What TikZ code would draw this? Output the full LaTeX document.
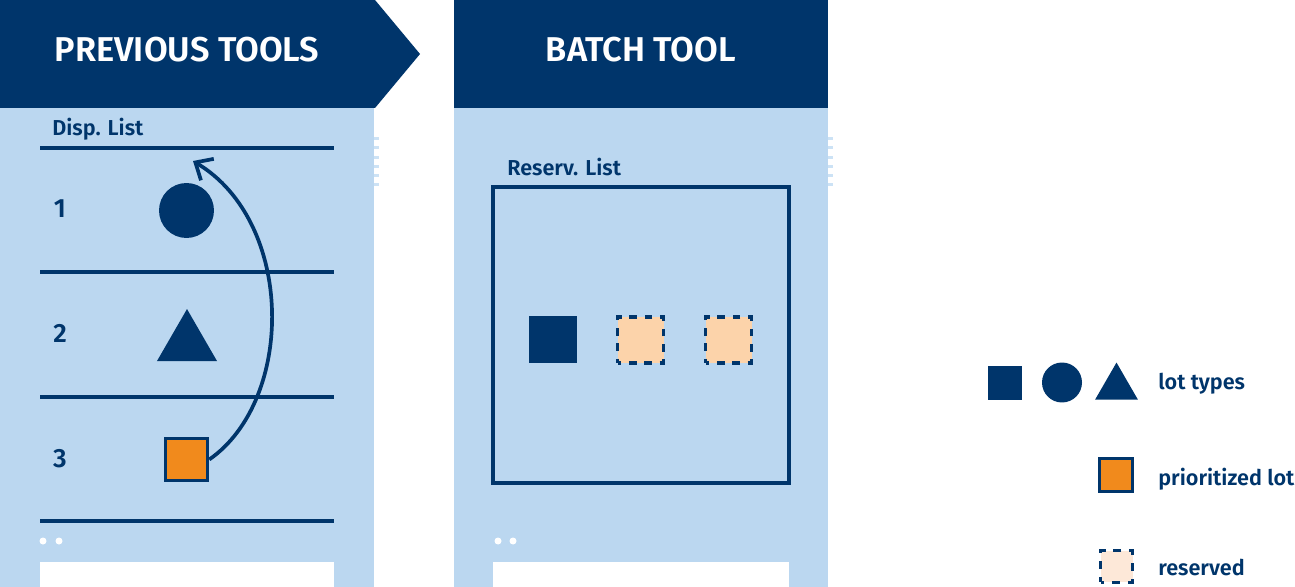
\documentclass[tikz,border=0pt]{standalone}
\usepackage{fontspec}
\setmainfont{Fira Sans}
\newfontfamily\semib{Fira Sans SemiBold}
\usepackage{tikz}
\usetikzlibrary{arrows.meta,positioning,calc,shapes.geometric}
\definecolor{tdark}{HTML}{00356B}
\definecolor{tlight}{HTML}{BBD7F0}
\definecolor{ttick}{HTML}{CCE2F5}
\definecolor{lotorange}{HTML}{F18A1C}
\definecolor{lotpeach}{HTML}{FCD3AA}
\definecolor{lotpale}{HTML}{FDE8D8}
\tikzset{
  hdr/.style={font=\fontsize{19.6}{21}\selectfont\semib,text=white,anchor=base,inner sep=0pt},
  lbl/.style={font=\fontsize{12.3}{15}\selectfont\semib,text=tdark,anchor=base west,inner sep=0pt},
  num/.style={font=\fontsize{15}{18}\selectfont\semib,text=tdark,anchor=base,inner sep=0pt},
  sepline/.style={draw=tdark,line width=2.1pt},
  sqlot/.style={rectangle,fill=tdark,inner sep=0pt},
  cirlot/.style={circle,fill=tdark,inner sep=0pt},
  trilot/.style={regular polygon,regular polygon sides=3,fill=tdark,inner sep=0pt},
  priolot/.style={rectangle,draw=tdark,line width=2pt,fill=lotorange,inner sep=0pt},
  reslot/.style={rectangle,draw=tdark,line width=2pt,fill=lotpeach,inner sep=0pt,
    minimum size=0.92cm,dash pattern=on 4.35pt off 4.35pt,dash phase=2.17pt},
  de/.style={-{Straight Barb[length=2.8mm,width=5mm]},draw=tdark,line width=2.1pt}
}

\begin{document}
\begin{tikzpicture}[x=0.02cm,y=-0.02cm]
\useasboundingbox (0,0) rectangle (1295,587);
% panels
\fill[tlight] (0,108) rectangle (374,587);
\fill[tlight] (454,108) rectangle (828,587);
\fill[white] (40,562) rectangle (334,587);
\fill[white] (493,562) rectangle (789,587);
\foreach \y in {137,146.5,156,165,174,183.3} {
  \fill[ttick] (374,\y) rectangle (378.5,\y+3);
  \fill[ttick] (828,\y) rectangle (832.5,\y+3);
}
\foreach \x in {43,59,498,513}
  \fill[white] (\x,541) circle[radius=0.07cm];
\fill[tdark] (0,0) -- (375,0) -- (420,54) -- (375,108) -- (0,108) -- cycle;
\fill[tdark] (454,0) rectangle (828,108);
\node[hdr] (prevhead) at (187,62) {PREVIOUS TOOLS};
\node[hdr] (batchhead) at (641,62) {BATCH TOOL};
% dispatch list
\node[lbl] (displbl) at (52,136) {Disp. List};
\foreach \y in {148,272,397,521}
  \draw[sepline] (40,\y) -- (334,\y);
\node[num] (n1) at (60,218) {1};
\node[num] (n2) at (60,343) {2};
\node[num] (n3) at (60,467) {3};
\node[cirlot,minimum size=1.1cm] (lot1) at (186.5,210.5) {};
\node[trilot,minimum size=1.386cm] (lot2) at (187,343.7) {};
\node[priolot,minimum size=0.84cm] (lot3) at (186.5,459.5) {};
\coordinate (disptop) at (193,161);
\draw[de] (lot3.east) .. controls (295,400) and (295,222) .. (disptop);
% reservation list
\node[lbl] (reslbl) at (507,176) {Reserv. List};
\draw[sepline] (493,187) rectangle (789,483);
\node[sqlot,minimum size=0.96cm] (bl1) at (553,339.5) {};
\node[reslot] (bl2) at (640.5,340) {};
\node[reslot] (bl3) at (728.5,340) {};
% legend
\node[sqlot,minimum size=0.68cm] (lgsq) at (1005,383) {};
\node[cirlot,minimum size=0.8cm] (lgcir) at (1062,382.5) {};
\node[trilot,minimum size=0.99cm] (lgtri) at (1116.5,387.3) {};
\node[lbl] (lgtypes) at (1158,390) {lot types};
\node[priolot,minimum size=0.66cm] (lgprio) at (1116,475) {};
\node[lbl] (lgpriotxt) at (1158,485) {prioritized lot};
\node[reslot,fill=lotpale,minimum size=0.64cm,dash pattern=on 4.5pt off 4.5pt,dash phase=2.25pt] (lgres) at (1116.5,566.5) {};
\node[lbl] (lgrestxt) at (1158,575) {reserved};
\end{tikzpicture}
\end{document}
